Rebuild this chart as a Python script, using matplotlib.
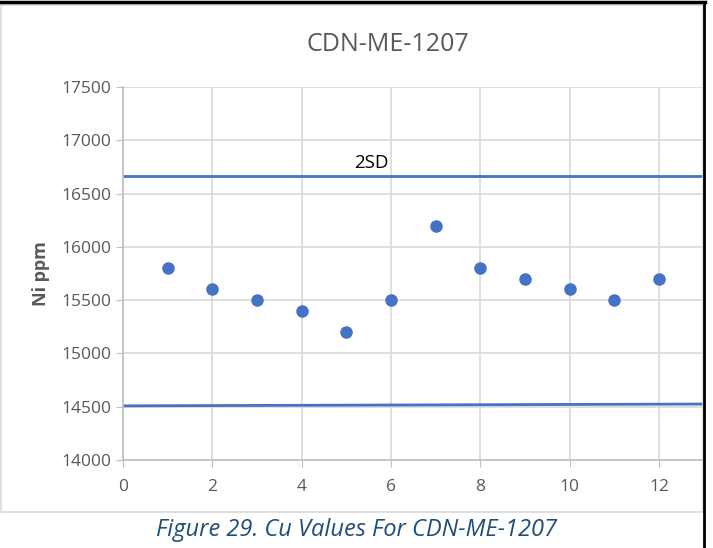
import numpy as np
import matplotlib.pyplot as plt
from matplotlib.patches import Rectangle
from matplotlib.lines import Line2D

plt.rcParams['font.family'] = ['Open Sans', 'DejaVu Sans']

# data
sample_no = [1, 2, 3, 4, 5, 6, 7, 8, 9, 10, 11, 12]
ni_ppm = [15800, 15600, 15500, 15400, 15200, 15500, 16200, 15800, 15700, 15600, 15500, 15700]
upper_x = [0, 13]
upper_y = [16665, 16665]
lower_x = [0, 13]
lower_y = [14508, 14525]

blue = '#4472C4'
grey_txt = '#595959'

fig = plt.figure(figsize=(7.13, 5.48), dpi=100)

# chart frame and page borders
fig.add_artist(Rectangle((0.001, 0.066), 0.985, 0.925, transform=fig.transFigure,
                         fill=False, edgecolor='#d9d9d9', linewidth=1.2))
fig.add_artist(Line2D([0, 0.989], [0.996, 0.996], transform=fig.transFigure,
                      color='black', linewidth=2.5))
fig.add_artist(Line2D([0.987, 0.987], [0, 0.996], transform=fig.transFigure,
                      color='black', linewidth=2))

ax = fig.add_axes([0.1725, 0.1606, 0.8145, 0.6807])
ax.plot(upper_x, upper_y, color=blue, linewidth=2, zorder=2)
ax.plot(lower_x, lower_y, color=blue, linewidth=2, zorder=2)
ax.plot(sample_no, ni_ppm, 'o', color=blue, markersize=8, zorder=3)
ax.text(5.55, 16700, '2SD', ha='center', va='bottom', fontsize=13.5, color='black')

ax.set_xlim(0, 13)
ax.set_ylim(14000, 17500)
ax.set_xticks(np.arange(0, 13, 2))
ax.set_yticks(np.arange(14000, 17501, 500))
ax.grid(True, color='#d9d9d9', linewidth=1.2)
ax.set_axisbelow(True)
for s in ['top', 'right']:
    ax.spines[s].set_visible(False)
for s in ['left', 'bottom']:
    ax.spines[s].set_color('#bfbfbf')
    ax.spines[s].set_linewidth(1.2)
ax.tick_params(colors='#bfbfbf', labelcolor=grey_txt, labelsize=12.5, length=5)
ax.tick_params(axis='x', pad=9)
ax.set_ylabel('Ni ppm', fontsize=13, color=grey_txt, fontweight='bold', labelpad=8)

fig.text(0.544, 0.918, 'CDN-ME-1207', ha='center', va='center', fontsize=18, color=grey_txt)
fig.text(0.5, 0.033, 'Figure 29. Cu Values For CDN-ME-1207', ha='center', va='center',
         fontsize=17, style='italic', color='#1F4E79')

plt.savefig('out.png', dpi=100)
